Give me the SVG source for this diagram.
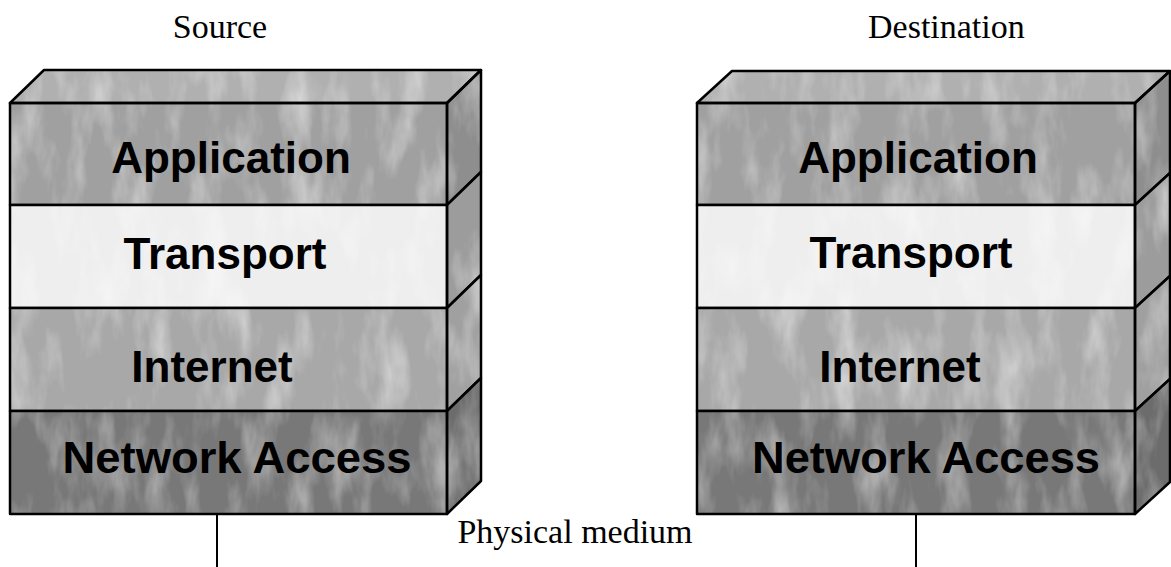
<svg xmlns="http://www.w3.org/2000/svg" width="1171" height="567" viewBox="0 0 1171 567">
  <defs>
    <style>
      .edge { fill: none; stroke: #000; stroke-width: 2.5; stroke-linejoin: round; }
      .face { filter: url(#marble); }
      .lbl { font-family: "Liberation Sans", Arial, sans-serif; font-weight: bold; font-size: 44px; fill: #000; text-anchor: middle; }
      .cap { font-family: "Liberation Serif", "Times New Roman", serif; font-size: 34px; fill: #000; }
      .wire { stroke: #000; stroke-width: 2; fill: none; }
      .top { fill: #b0b0b0; }
      .app { fill: #a0a0a0; }
      .app-s { fill: #8e8e8e; }
      .tra { fill: #eeeeee; }
      .tra-s { fill: #9c9c9c; }
      .int { fill: #a8a8a8; }
      .int-s { fill: #a0a0a0; }
      .net { fill: #787878; }
      .net-s { fill: #6c6c6c; }
    </style>
    <!-- soft mottled marble laid over the flat face colours -->
    <filter id="marble" x="0" y="0" width="100%" height="100%" color-interpolation-filters="sRGB">
      <feTurbulence type="fractalNoise" baseFrequency="0.035 0.012" numOctaves="4" seed="7" result="n"/>
      <feColorMatrix in="n" type="matrix" values="0 0 0 0 1  0 0 0 0 1  0 0 0 0 1  1.1 0 0 0 -0.5" result="w"/>
      <feComposite in="w" in2="SourceGraphic" operator="in" result="wc"/>
      <feMerge>
        <feMergeNode in="SourceGraphic"/>
        <feMergeNode in="wc"/>
      </feMerge>
    </filter>
  </defs>

  <rect width="1171" height="567" fill="#fff"/>

  <!-- captions -->
  <text class="cap" x="220" y="38" text-anchor="middle">Source</text>
  <text class="cap" x="868" y="38">Destination</text>
  <text class="cap" x="575" y="543" text-anchor="middle">Physical medium</text>

  <!-- connectors: drops from each stack to the physical medium -->
  <g id="connectors">
    <line class="wire" x1="217" y1="514" x2="217" y2="567"/>
    <line class="wire" x1="916" y1="514" x2="916" y2="567"/>
  </g>

  <!-- ===== Source stack ===== -->
  <g id="src-application">
    <polygon class="face top" points="10,103 447,103 481,70 44,70"/>
    <rect class="face app" x="10" y="103" width="437" height="102"/>
    <polygon class="face app-s" points="447,103 481,70 481,172 447,205"/>
    <polygon class="edge" points="10,103 447,103 481,70 44,70"/>
    <rect class="edge" x="10" y="103" width="437" height="102"/>
    <polygon class="edge" points="447,103 481,70 481,172 447,205"/>
    <text class="lbl" x="231" y="173">Application</text>
  </g>
  <g id="src-transport">
    <rect class="face tra" x="10" y="205" width="437" height="103"/>
    <polygon class="face tra-s" points="447,205 481,172 481,275 447,308"/>
    <rect class="edge" x="10" y="205" width="437" height="103"/>
    <polygon class="edge" points="447,205 481,172 481,275 447,308"/>
    <text class="lbl" x="225" y="269">Transport</text>
  </g>
  <g id="src-internet">
    <rect class="face int" x="10" y="308" width="437" height="103"/>
    <polygon class="face int-s" points="447,308 481,275 481,378 447,411"/>
    <rect class="edge" x="10" y="308" width="437" height="103"/>
    <polygon class="edge" points="447,308 481,275 481,378 447,411"/>
    <text class="lbl" x="212" y="382">Internet</text>
  </g>
  <g id="src-network-access">
    <rect class="face net" x="10" y="411" width="437" height="103"/>
    <polygon class="face net-s" points="447,411 481,378 481,481 447,514"/>
    <rect class="edge" x="10" y="411" width="437" height="103"/>
    <polygon class="edge" points="447,411 481,378 481,481 447,514"/>
    <text class="lbl" x="237" y="473" textLength="349" lengthAdjust="spacingAndGlyphs">Network Access</text>
  </g>

  <!-- ===== Destination stack ===== -->
  <g id="dst-application">
    <polygon class="face top" points="697,103 1135,103 1170,71 732,71"/>
    <rect class="face app" x="697" y="103" width="438" height="102"/>
    <polygon class="face app-s" points="1135,103 1170,71 1170,173 1135,205"/>
    <polygon class="edge" points="697,103 1135,103 1170,71 732,71"/>
    <rect class="edge" x="697" y="103" width="438" height="102"/>
    <polygon class="edge" points="1135,103 1170,71 1170,173 1135,205"/>
    <text class="lbl" x="918" y="173">Application</text>
  </g>
  <g id="dst-transport">
    <rect class="face tra" x="697" y="205" width="438" height="103"/>
    <polygon class="face tra-s" points="1135,205 1170,173 1170,276 1135,308"/>
    <rect class="edge" x="697" y="205" width="438" height="103"/>
    <polygon class="edge" points="1135,205 1170,173 1170,276 1135,308"/>
    <text class="lbl" x="911" y="268">Transport</text>
  </g>
  <g id="dst-internet">
    <rect class="face int" x="697" y="308" width="438" height="103"/>
    <polygon class="face int-s" points="1135,308 1170,276 1170,379 1135,411"/>
    <rect class="edge" x="697" y="308" width="438" height="103"/>
    <polygon class="edge" points="1135,308 1170,276 1170,379 1135,411"/>
    <text class="lbl" x="900" y="382">Internet</text>
  </g>
  <g id="dst-network-access">
    <rect class="face net" x="697" y="411" width="438" height="103"/>
    <polygon class="face net-s" points="1135,411 1170,379 1170,482 1135,514"/>
    <rect class="edge" x="697" y="411" width="438" height="103"/>
    <polygon class="edge" points="1135,411 1170,379 1170,482 1135,514"/>
    <text class="lbl" x="926" y="473" textLength="348" lengthAdjust="spacingAndGlyphs">Network Access</text>
  </g>
</svg>
